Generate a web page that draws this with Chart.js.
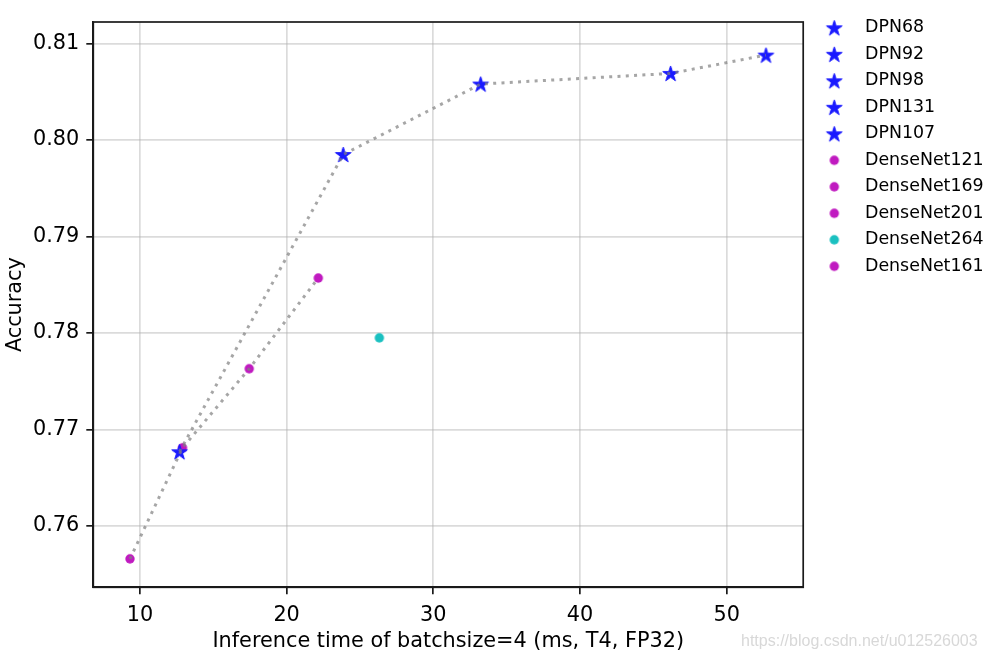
<!DOCTYPE html>
<html>
<head>
<meta charset="utf-8">
<script src="https://cdn.jsdelivr.net/npm/chart.js@4/dist/chart.umd.min.js"></script>
<style>
  html, body { margin: 0; padding: 0; background: #fff; }
  #wrap { position: relative; width: 985px; height: 659px; }
  #watermark { position: absolute; left: 741px; top: 632px; font: 16px "Liberation Sans", Arial, sans-serif; line-height: 18px; color: #d8d8d8; white-space: nowrap; }
</style>
</head>
<body>
<div id="wrap">
  <canvas id="chart" width="985" height="659"></canvas>
  <div id="watermark">https://blog.csdn.net/u012526003</div>
</div>
<script>
// DPN models (star markers)
var dpnNames = ["DPN68", "DPN92", "DPN98", "DPN131", "DPN107"];
var dpnTime = [12.7, 23.86, 33.23, 46.18, 52.68];
var dpnAcc = [0.7677, 0.7985, 0.8058, 0.8069, 0.8088];

// DenseNet models (dot markers)
var denseNames = ["DenseNet121", "DenseNet169", "DenseNet201", "DenseNet264", "DenseNet161"];
var denseTime = [9.32, 12.9, 17.45, 26.32, 22.16];
var denseAcc = [0.7566, 0.7681, 0.7763, 0.7795, 0.7857];
var denseColors = ["#c01ac0", "#c01ac0", "#c01ac0", "#1ac0c0", "#c01ac0"];
// models joined by the dotted trend line
var denseLineIdx = [0, 1, 2, 4];

var xTicks = [10, 20, 30, 40, 50];
var yTicks = [0.76, 0.77, 0.78, 0.79, 0.80, 0.81];

Chart.defaults.font.family = "'DejaVu Sans', sans-serif";
Chart.defaults.color = "#000";

function makeStar(r, color) {
  var s = Math.ceil(r * 2 + 4);
  var c = document.createElement("canvas");
  c.width = s; c.height = s;
  var g = c.getContext("2d");
  g.fillStyle = color;
  g.strokeStyle = color;
  g.lineWidth = 1;
  g.lineJoin = "round";
  g.beginPath();
  for (var i = 0; i < 10; i++) {
    var rad = i % 2 ? r * 0.381966 : r;
    var a = -Math.PI / 2 + i * Math.PI / 5;
    g.lineTo(s / 2 + rad * Math.cos(a), s / 2 + 0.7 + rad * Math.sin(a));
  }
  g.closePath();
  g.fill();
  g.stroke();
  return c;
}

function makeDot(r, color) {
  var s = Math.ceil(r * 2 + 2);
  var c = document.createElement("canvas");
  c.width = s; c.height = s;
  var g = c.getContext("2d");
  g.fillStyle = color;
  g.beginPath();
  g.arc(s / 2, s / 2, r, 0, Math.PI * 2);
  g.fill();
  return c;
}

var starImg = makeStar(8.2, "#1919ff");
var datasets = [];

dpnNames.forEach(function (name, i) {
  datasets.push({
    label: name,
    data: [{ x: dpnTime[i], y: dpnAcc[i] }],
    pointStyle: starImg,
    pointRadius: 8,
    backgroundColor: "#1919ff",
    borderColor: "#1919ff"
  });
});

denseNames.forEach(function (name, i) {
  datasets.push({
    label: name,
    data: [{ x: denseTime[i], y: denseAcc[i] }],
    pointStyle: makeDot(4.7, denseColors[i]),
    pointRadius: 5,
    backgroundColor: denseColors[i],
    borderColor: denseColors[i]
  });
});

var lineStyle = {
  showLine: true,
  pointRadius: 0,
  borderColor: "rgba(128,128,128,0.7)",
  borderWidth: 3,
  borderDash: [3, 5.3],
  fill: false,
  order: -1
};

datasets.push(Object.assign({
  label: "dpn-line",
  data: dpnTime.map(function (t, i) { return { x: t, y: dpnAcc[i] }; })
}, lineStyle));

datasets.push(Object.assign({
  label: "dense-line",
  data: denseLineIdx.map(function (i) { return { x: denseTime[i], y: denseAcc[i] }; })
}, lineStyle));

var frame = {
  id: "frame",
  afterDatasetsDraw: function (chart) {
    var a = chart.chartArea, ctx = chart.ctx;
    ctx.save();
    ctx.strokeStyle = "#1a1a1a";
    ctx.lineWidth = 1.7;
    ctx.strokeRect(a.left, a.top, a.right - a.left, a.bottom - a.top);
    ctx.restore();
  }
};

new Chart(document.getElementById("chart"), {
  type: "scatter",
  data: { datasets: datasets },
  plugins: [frame],
  options: {
    responsive: false,
    animation: false,
    events: [],
    layout: { padding: { top: 10, right: -8.6, bottom: 0, left: 0 } },
    plugins: {
      tooltip: { enabled: false },
      title: {
        display: true,
        text: "",
        fullSize: false,
        padding: { top: 11, bottom: 0 },
        font: { size: 1, lineHeight: 1 }
      },
      legend: {
        position: "right",
        align: "start",
        labels: {
          usePointStyle: true,
          pointStyleWidth: 44,
          padding: 9.1,
          font: { size: 17.4 },
          color: "#000",
          filter: function (item) { return item.datasetIndex < 10; }
        }
      }
    },
    scales: {
      x: {
        type: "linear",
        min: 6.82,
        max: 55.22,
        afterBuildTicks: function (s) { s.ticks = xTicks.map(function (v) { return { value: v }; }); },
        afterFit: function (s) { s.height = 71.7; },
        ticks: { font: { size: 20.8 }, padding: 9, color: "#000" },
        grid: { color: "rgba(176,176,176,0.45)", lineWidth: 1.7, tickLength: 7, tickColor: "#1a1a1a", tickWidth: 1.7 },
        border: { color: "#1a1a1a", width: 1.7 },
        title: { display: true, text: "Inference time of batchsize=4 (ms, T4, FP32)", font: { size: 20.8 }, padding: { top: 0, bottom: 4.5 }, color: "#000" }
      },
      y: {
        type: "linear",
        min: 0.75365,
        max: 0.81223,
        afterBuildTicks: function (s) { s.ticks = yTicks.map(function (v) { return { value: v }; }); },
        afterFit: function (s) { s.width = 93.3; },
        ticks: { font: { size: 20.8 }, padding: 7, color: "#000", callback: function (v) { return v.toFixed(2); } },
        grid: { color: "rgba(176,176,176,0.45)", lineWidth: 1.7, tickLength: 7, tickColor: "#1a1a1a", tickWidth: 1.7 },
        border: { color: "#1a1a1a", width: 1.7 },
        title: { display: true, text: "Accuracy", font: { size: 20.8 }, padding: { top: 3, bottom: 0 }, color: "#000" }
      }
    }
  }
});
</script>
</body>
</html>
